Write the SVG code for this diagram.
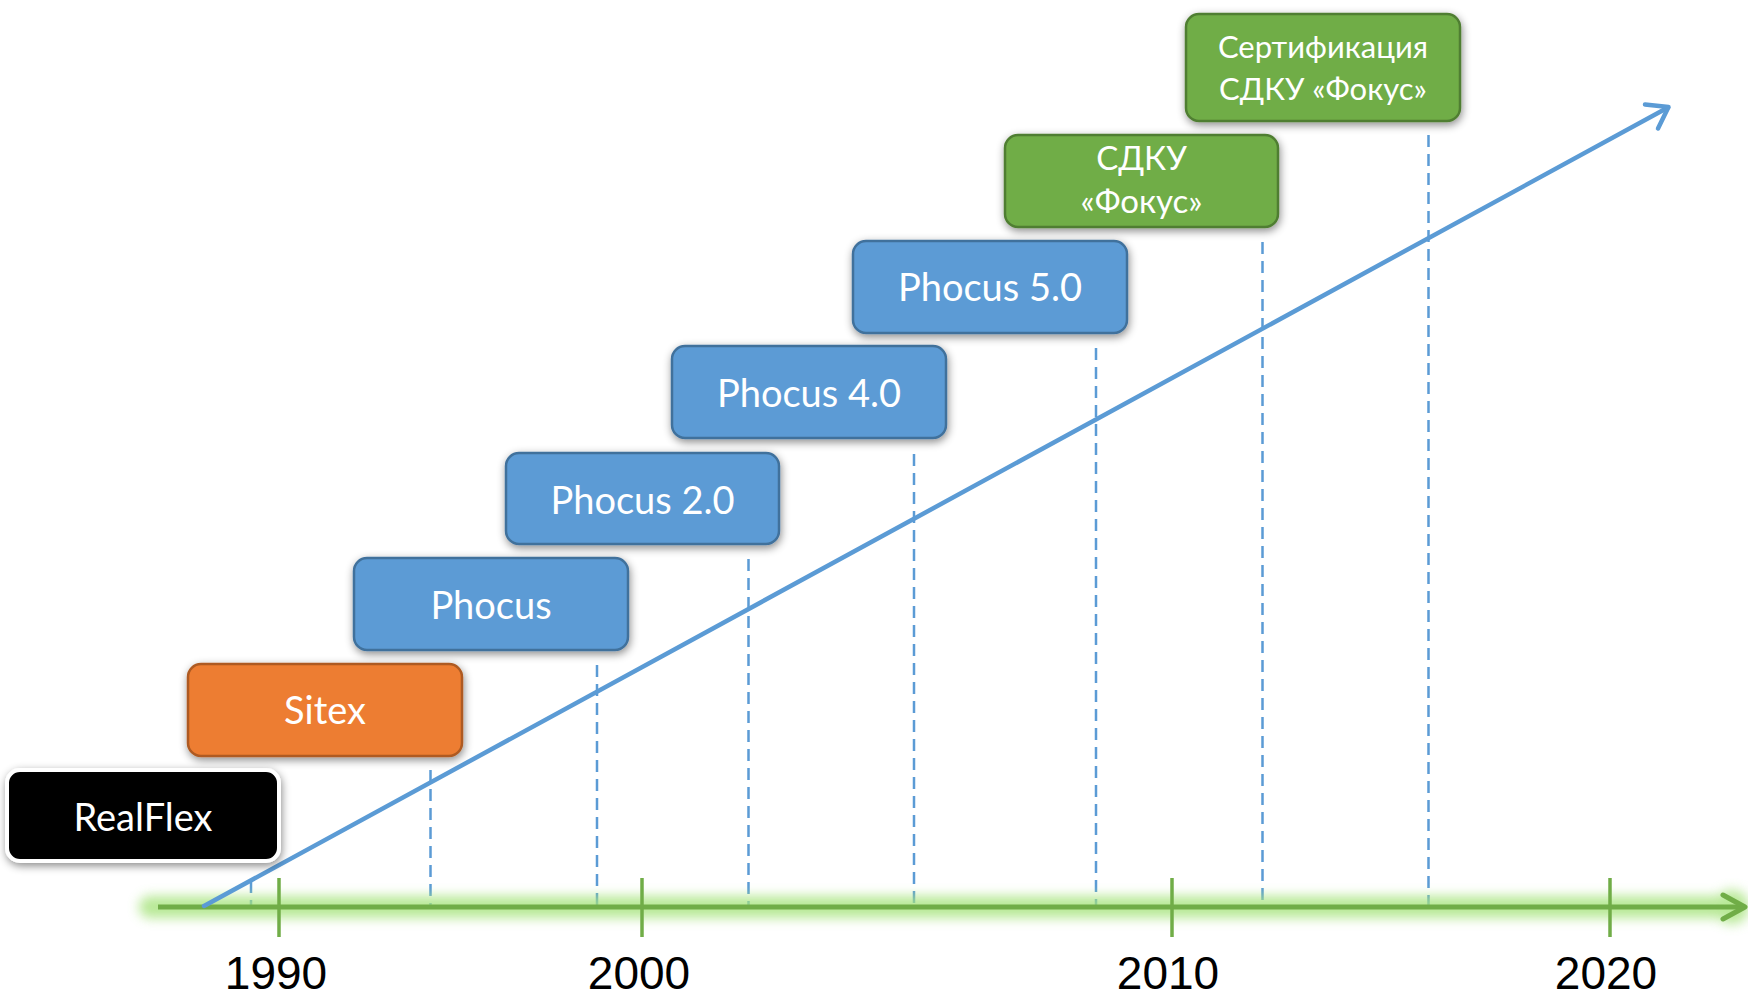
<svg xmlns="http://www.w3.org/2000/svg" width="1748" height="1000" viewBox="0 0 1748 1000">
<defs>
<style>
.box{stroke-width:2.5;filter:url(#sh)}
.blue{fill:#5B9BD5;stroke:#41719C}
.green{fill:#70AD47;stroke:#507E32}
.orange{fill:#ED7D31;stroke:#AE5A21}
.black{fill:#000;stroke:#fff;stroke-width:4}
.t{font-family:Lato,"Noto Sans","Liberation Sans",sans-serif;fill:#fff;text-anchor:middle;font-size:38px}
.t2{font-size:33px}
.t3{font-size:31px}
.yr{font-family:"Liberation Sans",Arial,sans-serif;font-size:46px;fill:#000;text-anchor:middle}
.dash{stroke:#5B9BD5;stroke-width:2.5;stroke-dasharray:12 7;fill:none}
</style>
<filter id="sh" x="-20%" y="-30%" width="140%" height="160%">
<feDropShadow dx="1" dy="3" stdDeviation="4" flood-color="#000" flood-opacity="0.45"/>
</filter>
<filter id="glow" x="-5%" y="-200%" width="110%" height="500%">
<feGaussianBlur stdDeviation="6"/>
</filter>
</defs>
<rect width="1748" height="1000" fill="#fff"/>

<g id="connectors">
<line class="dash" x1="251" y1="881" x2="251" y2="906"/>
<line class="dash" x1="430.5" y1="770" x2="430.5" y2="906"/>
<line class="dash" x1="597" y1="665" x2="597" y2="906"/>
<line class="dash" x1="748.5" y1="559" x2="748.5" y2="906"/>
<line class="dash" x1="914" y1="454" x2="914" y2="906"/>
<line class="dash" x1="1096" y1="348" x2="1096" y2="906"/>
<line class="dash" x1="1262.5" y1="242" x2="1262.5" y2="906"/>
<line class="dash" x1="1428.5" y1="135" x2="1428.5" y2="906"/>
<g id="axis">
<g filter="url(#glow)" opacity="0.8">
<line x1="150" y1="907" x2="1732" y2="907" stroke="#A6E37C" stroke-width="22" stroke-linecap="round"/>
<circle cx="1732" cy="907" r="17" fill="#A6E37C"/>
</g>
<line x1="158" y1="907" x2="1743" y2="907" stroke="#70AD47" stroke-width="5"/>
<polyline points="1723,895 1745,907 1723,919" fill="none" stroke="#70AD47" stroke-width="5" stroke-linecap="round" stroke-linejoin="round"/>
<line x1="279" y1="878" x2="279" y2="937" stroke="#70AD47" stroke-width="3.5"/>
<line x1="642" y1="878" x2="642" y2="937" stroke="#70AD47" stroke-width="3.5"/>
<line x1="1172" y1="878" x2="1172" y2="937" stroke="#70AD47" stroke-width="3.5"/>
<line x1="1610" y1="878" x2="1610" y2="937" stroke="#70AD47" stroke-width="3.5"/>
</g>
<g id="trend">
<line x1="204" y1="906" x2="1668" y2="107.5" stroke="#5B9BD5" stroke-width="4.5" stroke-linecap="round"/>
<polyline points="1645,104.5 1668.5,107 1658,128.5" fill="none" stroke="#5B9BD5" stroke-width="4.5" stroke-linecap="round" stroke-linejoin="round"/>
</g>
</g>

<g id="years">
<text class="yr" x="276" y="989">1990</text>
<text class="yr" x="639" y="989">2000</text>
<text class="yr" x="1168" y="989">2010</text>
<text class="yr" x="1606" y="989">2020</text>
</g>

<g id="realflex">
<rect class="box black" x="7" y="770" width="272" height="91" rx="13"/>
<text class="t" x="143" y="831">RealFlex</text>
</g>
<g id="sitex">
<rect class="box orange" x="188" y="664" width="274" height="92" rx="13"/>
<text class="t" x="325" y="724">Sitex</text>
</g>
<g id="phocus">
<rect class="box blue" x="354" y="558" width="274" height="92" rx="13"/>
<text class="t" x="491" y="619">Phocus</text>
</g>
<g id="phocus2">
<rect class="box blue" x="506" y="453" width="273" height="91" rx="13"/>
<text class="t" x="642.5" y="513.5">Phocus 2.0</text>
</g>
<g id="phocus4">
<rect class="box blue" x="672" y="346" width="274" height="92" rx="13"/>
<text class="t" x="809" y="407">Phocus 4.0</text>
</g>
<g id="phocus5">
<rect class="box blue" x="853" y="241" width="274" height="92" rx="13"/>
<text class="t" x="990" y="301">Phocus 5.0</text>
</g>
<g id="sdku">
<rect class="box green" x="1005" y="135" width="273" height="92" rx="13"/>
<text class="t t2" x="1141.5" y="170">СДКУ</text>
<text class="t t2" x="1141.5" y="213">«Фокус»</text>
</g>
<g id="cert">
<rect class="box green" x="1186" y="14" width="274" height="107" rx="13"/>
<text class="t t3" x="1323" y="58">Сертификация</text>
<text class="t t3" x="1323" y="100">СДКУ «Фокус»</text>
</g>
</svg>
